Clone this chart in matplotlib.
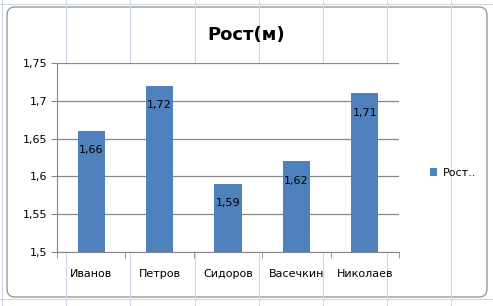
import matplotlib.pyplot as plt
from matplotlib.patches import FancyBboxPatch
from matplotlib.ticker import FuncFormatter

names = ['Иванов', 'Петров', 'Сидоров', 'Васечкин', 'Николаев']
heights = [1.66, 1.72, 1.59, 1.62, 1.71]
yticks = [1.5, 1.55, 1.6, 1.65, 1.7, 1.75]
bar_color = '#4F81BD'

W, H = 493, 306
fig = plt.figure(figsize=(W / 100, H / 100), dpi=100)
fig.patch.set_facecolor('white')

# spreadsheet cells behind the chart
bg = fig.add_axes([0, 0, 1, 1])
bg.set_xlim(0, W)
bg.set_ylim(H, 0)
bg.axis('off')
for x in [2, 66, 130, 195, 259, 323, 387, 451]:
    bg.axvline(x, color='#d0d7e5', lw=0.8)
for y in [4, 299]:
    bg.axhline(y, color='#d0d7e5', lw=0.8)
frame = FancyBboxPatch((7, 7), 480, 290, boxstyle='round,pad=0,rounding_size=8',
                       fc='white', ec='#9a9a9a', lw=1.0)
bg.add_patch(frame)

ax = fig.add_axes([57 / W, (H - 252) / H, (399 - 57) / W, (252 - 63) / H])
ax.bar(range(len(names)), heights, width=0.4, color=bar_color, zorder=2, label='Рост..')
ax.set_xlim(-0.5, len(names) - 0.5)
ax.set_ylim(1.5, 1.75)
ax.set_yticks(yticks)
ax.yaxis.set_major_formatter(FuncFormatter(lambda v, p: ('%g' % round(v, 2)).replace('.', ',')))
ax.set_xticks(range(len(names)))
ax.set_xticklabels(names)
ax.grid(axis='y', color='#888888', lw=0.9, zorder=0)
for s in ['top', 'right']:
    ax.spines[s].set_visible(False)
ax.spines['left'].set_color('#888888')
ax.spines['bottom'].set_color('#888888')
ax.tick_params(axis='y', length=4, color='#888888', labelsize=8, pad=3)
ax.tick_params(axis='x', length=0, labelsize=8, pad=12)
# x minor ticks at category boundaries
ax.set_xticks([i - 0.5 for i in range(len(names) + 1)], minor=True)
ax.tick_params(axis='x', which='minor', length=4, color='#888888')

for i, h in enumerate(heights):
    ax.annotate(('%.2f' % h).replace('.', ','), (i, h), xytext=(0, -14),
                textcoords='offset points', ha='center', va='center', fontsize=8)

fig.text(0.5, (H - 35) / H, 'Рост(м)', ha='center', va='center', fontsize=13, weight='bold')

ax.legend(loc='center left', bbox_to_anchor=(1.06, 0.42), frameon=False, fontsize=8,
          handlelength=0.7, handleheight=0.7, handletextpad=0.5)

fig.savefig('out.png', dpi=100)
